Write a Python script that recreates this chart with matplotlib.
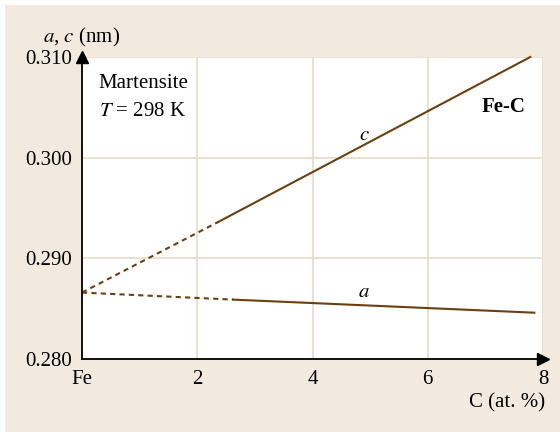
import matplotlib
matplotlib.use("Agg")
from matplotlib import pyplot as plt
from matplotlib.patches import Rectangle

# DATA (C content in at.%, lattice parameters in nm)
c_dash_x = [0.0, 2.36]
c_dash_y = [0.2866, 0.2936]
c_solid_x = [2.36, 7.78]
c_solid_y = [0.2936, 0.3100]

a_dash_x = [0.0, 2.62]
a_dash_y = [0.2866, 0.2859]
a_solid_x = [2.62, 7.85]
a_solid_y = [0.2859, 0.2846]

x_ticks = [0, 2, 4, 6, 8]
x_tick_labels = ["Fe", "2", "4", "6", "8"]
y_ticks = [0.280, 0.290, 0.300, 0.310]
y_tick_labels = ["0.280", "0.290", "0.300", "0.310"]

# STYLING
plt.rcParams["font.family"] = ["Liberation Serif", "DejaVu Serif"]
plt.rcParams["mathtext.fontset"] = "stix"
plt.rcParams["font.size"] = 15

BG = "#f2eadf"
GRID = "#e8dccb"
LINE = "#6b3f10"

fig = plt.figure(figsize=(5.6, 4.32), dpi=100)
fig.patch.set_facecolor("white")
fig.patches.append(Rectangle((5 / 560, 0), 1, 1 - 5 / 432, transform=fig.transFigure,
                             facecolor=BG, edgecolor="none", zorder=-10))

ax = fig.add_axes([82 / 560, 1 - 359 / 432, (543 - 82) / 560, (359 - 57) / 432])
ax.set_facecolor("white")
ax.set_xlim(0, 8)
ax.set_ylim(0.280, 0.310)

ax.set_xticks(x_ticks)
ax.set_xticklabels(x_tick_labels)
ax.set_yticks(y_ticks)
ax.set_yticklabels(y_tick_labels)
ax.grid(color=GRID, linewidth=1.3)
ax.set_axisbelow(True)
ax.tick_params(length=0)
ax.tick_params(axis="x", pad=8)
ax.tick_params(axis="y", pad=7)

for side in ["top", "right"]:
    ax.spines[side].set_visible(False)
for side in ["left", "bottom"]:
    ax.spines[side].set_linewidth(1.3)
    ax.spines[side].set_zorder(5)

# arrow heads on the axes
ax.plot(1, 0, ">", color="black", markersize=8, transform=ax.transAxes, clip_on=False, zorder=6)
ax.plot(0, 1, "^", color="black", markersize=8, transform=ax.transAxes, clip_on=False, zorder=6)

# lines
ax.plot(c_dash_x, c_dash_y, color=LINE, lw=1.5, dashes=(2.5, 2), clip_on=False)
ax.plot(c_solid_x, c_solid_y, color=LINE, lw=1.5, clip_on=False)
ax.plot(a_dash_x, a_dash_y, color=LINE, lw=1.5, dashes=(2.5, 2), clip_on=False)
ax.plot(a_solid_x, a_solid_y, color=LINE, lw=1.5, clip_on=False)

# labels
ax.text(4.9, 0.3022, "$c$", ha="center", va="center")
ax.text(4.9, 0.2866, "$a$", ha="center", va="center")
fig.text(98 / 560, 1 - 83 / 432, "Martensite", ha="left", va="center")
fig.text(99 / 560, 1 - 112 / 432, "$T$ = 298 K", ha="left", va="center")
fig.text(482 / 560, 1 - 107 / 432, "Fe-C", ha="left", va="center", fontweight="bold")
fig.text(43 / 560, 1 - 37 / 432, "$a$, $c$ (nm)", ha="left", va="center")
fig.text(545 / 560, 1 - 403 / 432, "C (at. %)", ha="right", va="center")

fig.savefig("out.png", dpi=100)
